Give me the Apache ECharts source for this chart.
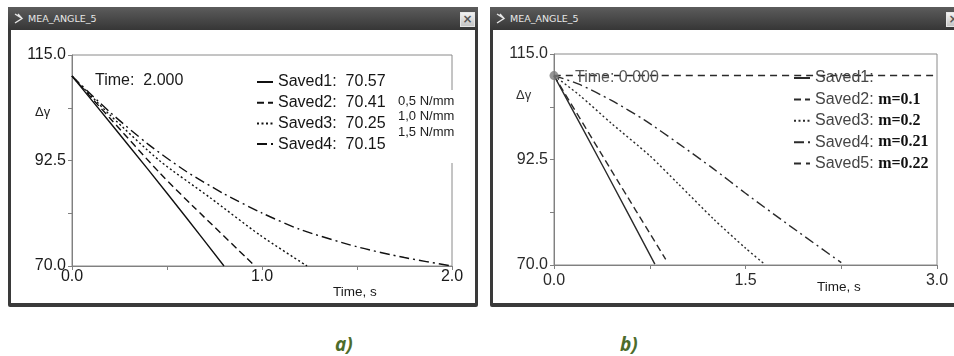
<!DOCTYPE html>
<html>
<head>
<meta charset="utf-8">
<script src="https://cdn.jsdelivr.net/npm/echarts@6/dist/echarts.min.js"></script>
<style>
  body { margin: 0; width: 954px; height: 356px; position: relative; overflow: hidden; background: #fff; }
  .win { position: absolute; top: 7px; height: 300px; background: #3a3a3a; border-radius: 2px; }
  .bar { position: absolute; left: 0; right: 0; top: 0; height: 23px; background: linear-gradient(#5c5c5c, #363636);
         color: #e8e8e8; font: 9.5px "DejaVu Sans", sans-serif; line-height: 23px; padding-left: 20px; }
  .bar svg { position: absolute; left: 6px; top: 6px; }
  .close { position: absolute; top: 5px; width: 13px; height: 13px; background: linear-gradient(#f2f2f2, #c4c4c4);
           border: 1px solid #e6e6e6; color: #555; font: bold 12px "DejaVu Sans"; line-height: 13px; text-align: center; }
  .inner { position: absolute; left: 3px; right: 3px; top: 23px; bottom: 4px; background: #fff; }
  .chart { position: absolute; top: 0; height: 310px; }
  .cap { position: absolute; top: 331px; font: italic bold 19px "Open Sans", sans-serif; color: #4d6c2b; }
</style>
</head>
<body>
<div class="win" style="left:8px;width:470px">
  <div class="bar"><svg width="10" height="11"><path d="M1 1 L8 5.5 L1 10 M4 1 L8 5.5" stroke="#e8e8e8" stroke-width="1.4" fill="none"/></svg>MEA_ANGLE_5</div>
  <div class="close" style="right:3px">×</div>
  <div class="inner"></div>
</div>
<div class="win" style="left:490px;width:480px">
  <div class="bar"><svg width="10" height="11"><path d="M1 1 L8 5.5 L1 10 M4 1 L8 5.5" stroke="#e8e8e8" stroke-width="1.4" fill="none"/></svg>MEA_ANGLE_5</div>
  <div class="close" style="left:456px">×</div>
  <div class="inner"></div>
</div>
<div id="chartA" class="chart" style="left:0;width:484px"></div>
<div id="chartB" class="chart" style="left:484px;width:470px"></div>
<div class="cap" style="left:335px">a)</div>
<div class="cap" style="left:620px">b)</div>

<script>
// panel a) — stiffness variants, [time s, angle]
const namesA = ['Saved1', 'Saved2', 'Saved3', 'Saved4']
const finalA = ['70.57', '70.41', '70.25', '70.15']
const unitsA = ['0,5 N/mm', '1,0 N/mm', '1,5 N/mm']
const savedA1 = [[0, 110.5], [0.2, 100.6], [0.4, 90.6], [0.6, 80.4], [0.8, 70.0]]
const savedA2 = [[0, 110.5], [0.2, 101.5], [0.463, 89.8], [0.638, 82.7], [0.963, 70.0]]
const savedA3 = [[0, 110.5], [0.2, 102.2], [0.463, 92.4], [0.726, 84.6], [0.989, 76.6], [1.237, 70.0]]
const savedA4 = [[0, 110.5], [0.2, 102.8], [0.4, 96.0], [0.6, 90.2], [0.8, 85.4], [1.0, 81.3],
  [1.2, 77.8], [1.5, 74.1], [1.75, 71.8], [2.0, 70.0]]
const xLabelsA = [0, 1, 2]

// panel b) — friction variants
const namesB = ['Saved1', 'Saved2', 'Saved3', 'Saved4', 'Saved5']
const massB = ['', 'm=0.1', 'm=0.2', 'm=0.21', 'm=0.22']
const savedB1 = [[0, 110.4], [0.4, 90.2], [0.79, 70.2]]
const savedB2 = [[0, 110.4], [0.44, 90.6], [0.875, 71.2]]
const savedB3 = [[0, 110.4], [0.2, 106.2], [0.45, 100.2], [0.75, 93.3], [0.97, 87.4], [1.25, 79.8],
  [1.5, 73.6], [1.64, 70.4]]
const savedB4 = [[0, 110.4], [0.2, 108.5], [0.45, 105.1], [0.71, 100.9], [0.97, 96.0], [1.25, 90.5],
  [1.5, 85.3], [1.85, 78.3], [2.25, 70.5]]
const savedB5 = [[0, 110.4], [3.0, 110.4]]
const xLabelsB = [0, 1.5, 3]

const yLabels = [70, 92.5, 115]
const dashes = ['solid', [7, 4], [2, 2.5], [10, 4, 2, 4], [7, 5]]
const font = 'Liberation Sans'

function axes(max, interval, shown, xMargin, color) {
  const line = { show: true, lineStyle: { color: '#808080' } }
  const tick = { show: true, length: 4, lineStyle: { color: '#808080' } }
  return {
    xAxis: {
      type: 'value', min: 0, max, interval, axisLine: line, axisTick: tick, splitLine: { show: false },
      axisLabel: { color, fontSize: 16, fontFamily: font, margin: xMargin,
        formatter: (v) => (shown.includes(v) ? v.toFixed(1) : '') },
    },
    yAxis: {
      type: 'value', min: 70, max: 115, interval: 11.25, axisLine: line, axisTick: tick, splitLine: { show: false },
      axisLabel: { color, fontSize: 16, fontFamily: font, margin: 6,
        formatter: (v) => (yLabels.includes(v) ? v.toFixed(1) : '') },
    },
  }
}

function lines(names, data, color) {
  return names.map((name, i) => ({
    name, type: 'line', data: data[i], symbol: 'none', smooth: 0.25, color,
    lineStyle: { color, width: 1.4, type: dashes[i] },
  }))
}

const txt = (x, y, text, size, fill, extra) => ({
  type: 'text', x, y, z: 20,
  style: Object.assign({ text, fontSize: size, fontFamily: font, fill, textVerticalAlign: 'middle' }, extra),
})

const chartA = echarts.init(document.getElementById('chartA'))
chartA.setOption({
  animation: false,
  grid: { left: 72, top: 55, width: 380, height: 211, show: true, borderColor: '#8a8a8a', borderWidth: 1 },
  ...axes(2, 0.5, xLabelsA, 3, '#1a1a1a'),
  legend: {
    data: namesA, orient: 'vertical', left: 256, top: 74, itemWidth: 16, itemHeight: 14, itemGap: 4.7,
    selectedMode: false, padding: 0, itemStyle: { opacity: 0 },
    textStyle: { fontSize: 16, fontFamily: font, color: '#151515' },
    formatter: (n) => n + ':  ' + finalA[namesA.indexOf(n)],
  },
  series: lines(namesA, [savedA1, savedA2, savedA3, savedA4], '#111'),
  graphic: [
    { type: 'rect', z: 15, shape: { x: 390, y: 90, width: 72, height: 73 }, style: { fill: '#fff' } },
    txt(95, 81, 'Time:  2.000', 16, '#1a1a1a'),
    txt(35, 112, 'Δγ', 13, '#222'),
    txt(333, 292, 'Time, s', 13.5, '#1a1a1a'),
    ...unitsA.map((u, i) => txt(398, 101 + i * 15.5, u, 13, '#1a1a1a')),
  ],
})

const chartB = echarts.init(document.getElementById('chartB'))
chartB.setOption({
  animation: false,
  grid: { left: 70, top: 54, width: 383, height: 211, show: true, borderColor: '#8a8a8a', borderWidth: 1 },
  ...axes(3, 0.75, xLabelsB, 8, '#2a2a2a'),
  legend: {
    data: namesB, orient: 'vertical', left: 309, top: 70, itemWidth: 16, itemHeight: 14, itemGap: 5.4,
    selectedMode: false, padding: 0, itemStyle: { opacity: 0 },
    textStyle: {
      rich: {
        s: { fontSize: 16, fontFamily: font, color: '#454545' },
        m: { fontSize: 16, fontFamily: 'Liberation Serif', fontWeight: 'bold', color: '#111' },
      },
    },
    formatter: (n) => {
      const m = massB[namesB.indexOf(n)]
      return '{s|' + n + ': }' + (m ? '{m|' + m + '}' : '')
    },
  },
  series: [
    ...lines(namesB, [savedB1, savedB2, savedB3, savedB4, savedB5], '#2a2a2a'),
    { name: 'start', type: 'scatter', data: [savedB1[0]], symbolSize: 9, itemStyle: { color: '#7a7a7a' }, z: 5 },
  ],
  graphic: [
    txt(91, 78, 'Time: 0.000', 16, '#555'),
    txt(32, 95, 'Δγ', 13, '#333'),
    txt(333, 287, 'Time, s', 13.5, '#1a1a1a'),
  ],
})
</script>
</body>
</html>
